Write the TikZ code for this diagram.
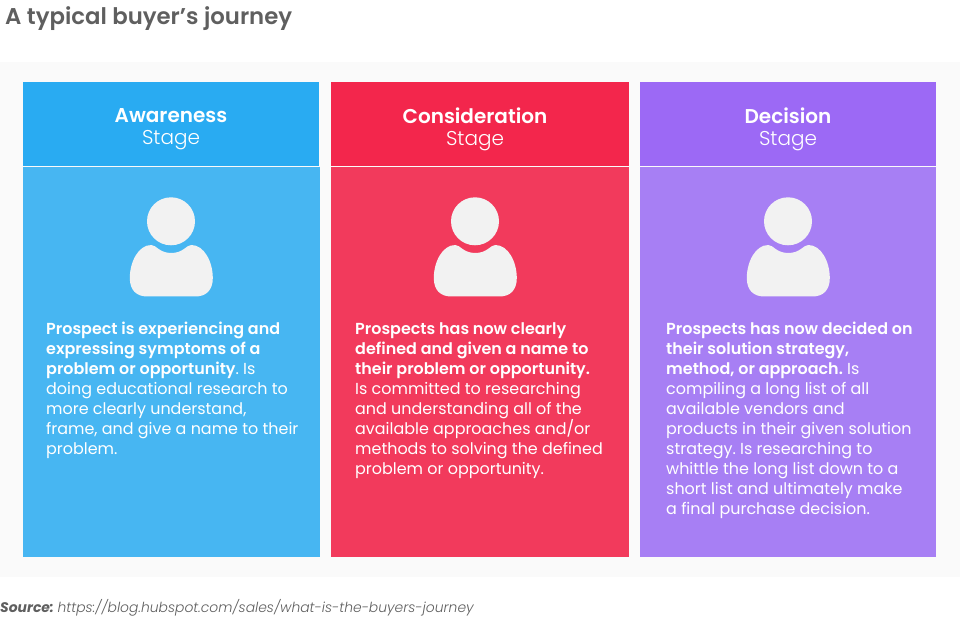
\documentclass[tikz,border=0pt]{standalone}
\usepackage{fontspec}
\setmainfont{Poppins}[BoldFont={Poppins SemiBold},ItalicFont={Poppins Light Italic},BoldItalicFont={Poppins Bold Italic}]
\newfontfamily\lightfont{Poppins Light}
\frenchspacing
\definecolor{pagegray}{HTML}{FAFAFA}
\definecolor{titlegray}{HTML}{5F5F5F}
\definecolor{icongray}{HTML}{F2F2F2}
\definecolor{bluehead}{HTML}{29ABF2}
\definecolor{bluebody}{HTML}{47B6F2}
\definecolor{redhead}{HTML}{F3264C}
\definecolor{redbody}{HTML}{F23A5C}
\definecolor{purplehead}{HTML}{9C69F5}
\definecolor{purplebody}{HTML}{A77FF4}
\tikzset{
  headtext/.style={text=white,align=center,font=\fontsize{20}{22}\selectfont,anchor=center,inner sep=0pt},
  bodytext/.style={text=white,align=left,font=\frenchspacing\fontsize{15.95}{20}\selectfont,anchor=north west,inner sep=0pt,text depth=0pt},
}
% 人物アイコン
\newcommand{\personicon}[1]{
  \fill[icongray] (#1,221.3) circle (24);
  \fill[icongray] (#1-41.2,278)
    .. controls (#1-41.2,262) and (#1-32.7,245) .. (#1-19.7,245)
    .. controls (#1-14.7,245) and (#1-11.7,253) .. (#1+.3,253)
    .. controls (#1+12.3,253) and (#1+15.3,245) .. (#1+20.3,245)
    .. controls (#1+33.3,245) and (#1+41.8,262) .. (#1+41.8,278)
    .. controls (#1+41.8,290) and (#1+35.3,296.5) .. (#1+24.3,296.5)
    -- (#1-23.7,296.5)
    .. controls (#1-34.7,296.5) and (#1-41.2,290) .. (#1-41.2,278) -- cycle;
}
\begin{document}
\begin{tikzpicture}[x=1pt,y=-1pt]
  \useasboundingbox (0,0) rectangle (960,617);
  \fill[white] (0,0) rectangle (960,617);
  % 背景の帯
  \fill[pagegray] (0,62) rectangle (960,577);
  % 題名
  \node[anchor=west,inner sep=0pt,text=titlegray,font=\bfseries\fontsize{22.8}{26}\selectfont] (title) at (5,19) {A typical buyer’s journey};
  % 左の列
  \fill[bluehead] (23,82) rectangle (319,166);
  \fill[bluebody] (23,167) rectangle (320,557);
  % 中央の列
  \fill[redhead] (331,82) rectangle (629,166);
  \fill[redbody] (331,167) rectangle (629,557);
  % 右の列
  \fill[purplehead] (640,82) rectangle (936,166);
  \fill[purplebody] (640,167) rectangle (936,557);
  % 見出し
  \node[headtext] (awareness) at (171,129.5) {\textbf{Awareness}\\{\lightfont Stage}};
  \node[headtext] (consideration) at (475,129.5) {\textbf{Consideration}\\{\lightfont Stage}};
  \node[headtext] (decision) at (788,129.5) {\textbf{Decision}\\{\lightfont Stage}};
  % アイコン
  \personicon{171}
  \personicon{475}
  \personicon{788}
  % 本文
  \node[bodytext] (awarenesstext) at (46,322) {\textbf{Prospect is experiencing and}\\\textbf{expressing symptoms of a}\\\textbf{problem or opportunity}. Is\\doing educational research to\\more clearly understand,\\frame, and give a name to their\\problem.};
  \node[bodytext] (considerationtext) at (355,322) {\textbf{Prospects has now clearly}\\\textbf{defined and given a name to}\\\textbf{their problem or opportunity.}\\Is committed to researching\\and understanding all of the\\available approaches and/or\\methods to solving the defined\\problem or opportunity.};
  \node[bodytext] (decisiontext) at (666,322) {\textbf{Prospects has now decided on}\\\textbf{their solution strategy,}\\\textbf{method, or approach.} Is\\compiling a long list of all\\available vendors and\\products in their given solution\\strategy. Is researching to\\whittle the long list down to a\\short list and ultimately make\\a final purchase decision.};
  % 出典
  \node[anchor=west,inner sep=0pt,text=titlegray,font=\frenchspacing\fontsize{13.9}{16}\selectfont] (source) at (0,608) {\textbf{\textit{Source:}} \textit{https://blog.hubspot.com/sales/what-is-the-buyers-journey}};
\end{tikzpicture}
\end{document}
